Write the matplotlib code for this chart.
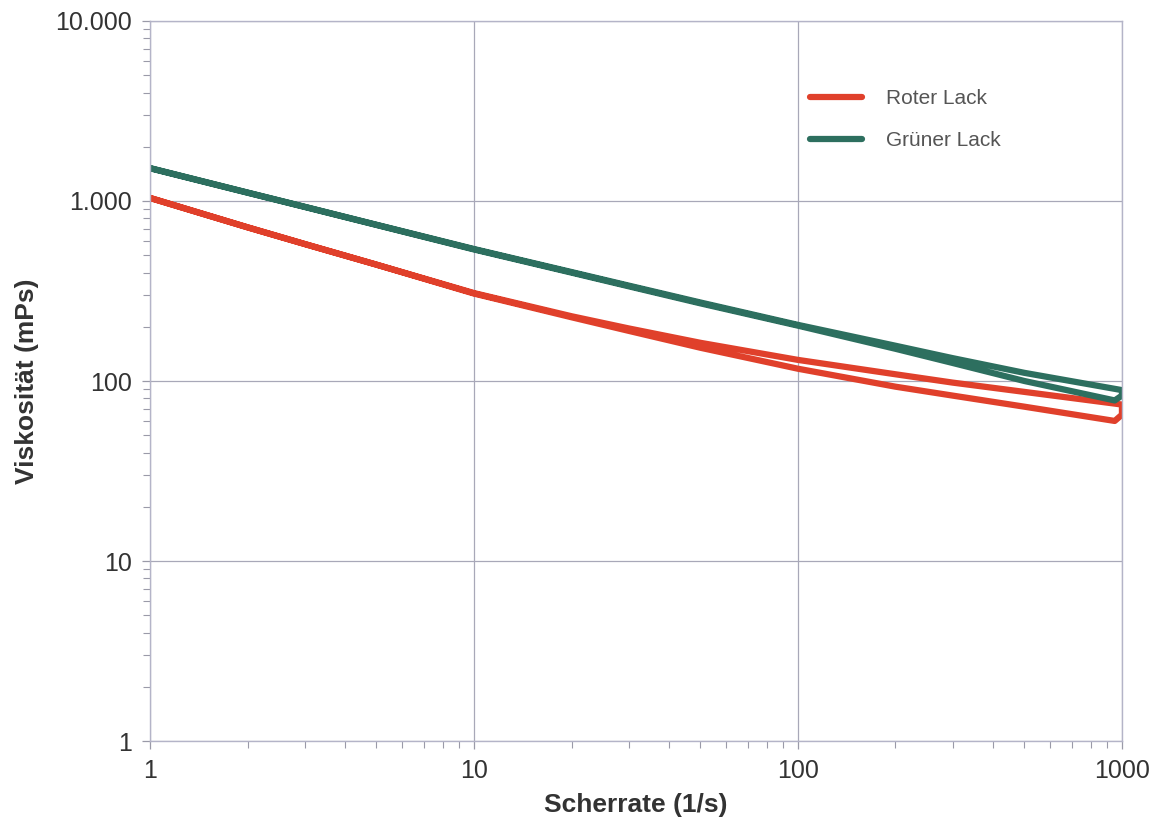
import matplotlib
matplotlib.use("Agg")
import matplotlib.pyplot as plt
from matplotlib.ticker import FixedLocator, FixedFormatter, LogLocator, NullFormatter

# shear rate (1/s) for the up- and down-sweep of each measurement
shear_up = [1, 2, 3, 5, 10, 20, 30, 50, 100, 200, 300, 500, 1000]
shear_down = [1000, 950, 500, 300, 200, 100, 50, 30, 20, 10, 5, 3, 2, 1]

# viscosity (mPs)
rot_up = [1040, 714, 577, 443, 308, 229, 196, 163, 131, 109, 98, 87, 74]
rot_down = [65, 60, 72, 83, 93, 117, 153, 190, 226, 306, 443, 577, 714, 1040]
gruen_up = [1524, 1114, 929, 738, 541, 403, 339, 273, 205, 157, 134, 111, 89]
gruen_down = [83, 78, 100, 126, 151, 203, 270, 336, 400, 538, 736, 927, 1112, 1520]

y_ticks = [1, 10, 100, 1000, 10000]
y_labels = ["1", "10", "100", "1.000", "10.000"]
x_ticks = [1, 10, 100, 1000]
x_labels = ["1", "10", "100", "1000"]

plt.rcParams["font.family"] = ["Liberation Sans", "DejaVu Sans"]

fig = plt.figure(figsize=(11.63, 8.23), dpi=100)
ax = fig.add_axes([0.129, 0.0996, 0.8357, 0.8749])

red = "#e0402b"
green = "#2d6f5f"
ax.plot(shear_up + shear_down, rot_up + rot_down, color=red, lw=4.5,
        solid_joinstyle="round", solid_capstyle="round", label="Roter Lack")
ax.plot(shear_up + shear_down, gruen_up + gruen_down, color=green, lw=4.5,
        solid_joinstyle="round", solid_capstyle="round", label="Grüner Lack")

ax.set_xscale("log")
ax.set_yscale("log")
ax.set_xlim(1, 1000)
ax.set_ylim(1, 10000)

ax.xaxis.set_major_locator(FixedLocator(x_ticks))
ax.xaxis.set_major_formatter(FixedFormatter(x_labels))
ax.yaxis.set_major_locator(FixedLocator(y_ticks))
ax.yaxis.set_major_formatter(FixedFormatter(y_labels))
ax.xaxis.set_minor_locator(LogLocator(base=10, subs=range(2, 10)))
ax.yaxis.set_minor_locator(LogLocator(base=10, subs=range(2, 10)))
ax.xaxis.set_minor_formatter(NullFormatter())
ax.yaxis.set_minor_formatter(NullFormatter())

tick_col = "#9a9aa8"
ax.tick_params(which="major", direction="out", length=6, width=0.9,
               color=tick_col, labelsize=18, labelcolor="#333333", pad=7)
ax.tick_params(which="minor", direction="out", length=5, width=0.8, color=tick_col)

ax.grid(True, which="major", color="#a8a8b8", lw=0.9)
ax.set_axisbelow(True)
for s in ax.spines.values():
    s.set_color("#b4b4c8")
    s.set_linewidth(1.0)

ax.set_xlabel("Scherrate (1/s)", fontsize=19, fontweight="bold", color="#333333", labelpad=7)
ax.set_ylabel("Viskosität (mPs)", fontsize=19, fontweight="bold", color="#333333", labelpad=12)

leg = ax.legend(loc="upper left", bbox_to_anchor=(0.660, 0.931), frameon=False,
                fontsize=15, handlelength=2.5, handletextpad=1.15, labelspacing=1.1)
for t in leg.get_texts():
    t.set_color("#555555")

fig.savefig("out.png", dpi=100)
